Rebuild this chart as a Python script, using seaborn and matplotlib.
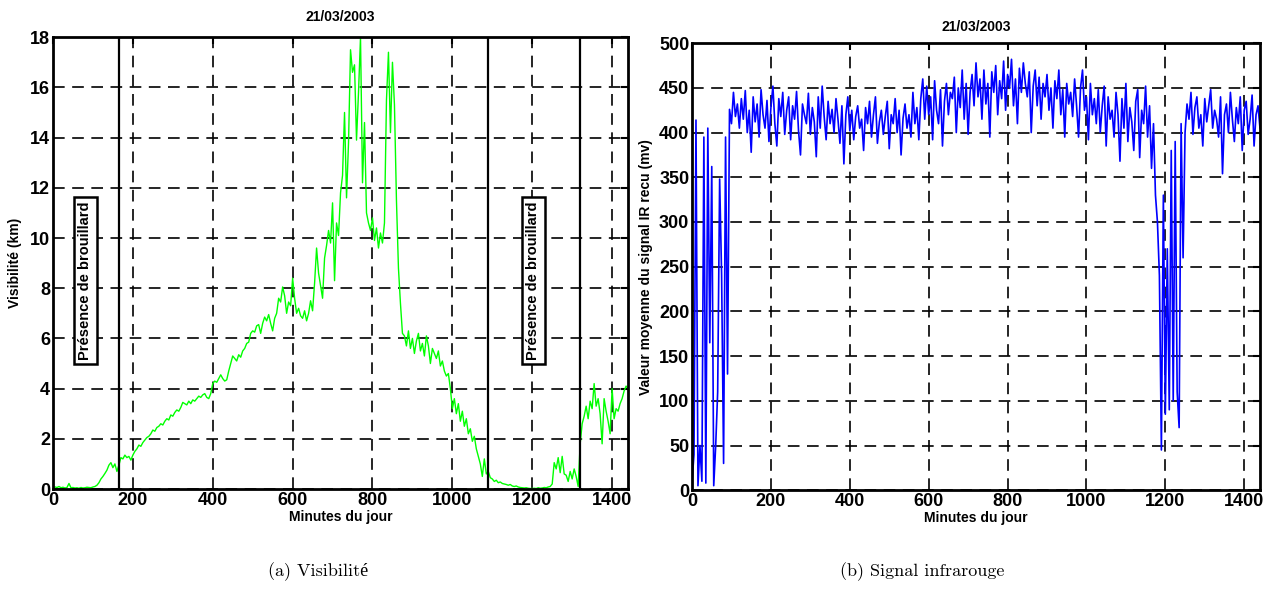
import numpy as np
import pandas as pd
import matplotlib
matplotlib.use("Agg")
import matplotlib.pyplot as plt
import seaborn as sns

# minutes of the day, one sample every 5 minutes
minutes = list(range(0, 1445, 5))

# visibility (km)
visibility = [
    0.05, 0.08, 0.06, 0.10, 0.05, 0.07, 0.04, 0.06, 0.22, 0.05, 0.06, 0.04,
    0.05, 0.03, 0.06, 0.04, 0.05, 0.07, 0.06, 0.05, 0.08, 0.10, 0.15, 0.25,
    0.40, 0.50, 0.62, 0.75, 0.95, 1.05, 0.85, 1.00, 0.70, 0.95, 1.25, 1.20,
    1.35, 1.25, 1.30, 1.15, 1.35, 1.50, 1.60, 1.75, 1.70, 1.85, 1.95, 2.05,
    2.10, 2.20, 2.35, 2.30, 2.45, 2.50, 2.60, 2.55, 2.70, 2.80, 2.75, 2.95,
    2.90, 3.05, 3.15, 3.10, 3.25, 3.45, 3.40, 3.35, 3.50, 3.40, 3.55, 3.50,
    3.60, 3.70, 3.65, 3.75, 3.80, 3.65, 3.60, 3.80, 4.20, 4.30, 4.25, 4.40,
    4.55, 4.40, 4.30, 4.35, 4.70, 5.00, 5.30, 5.20, 5.10, 5.35, 5.25, 5.50,
    5.60, 5.80, 5.85, 6.20, 6.30, 6.25, 6.50, 6.55, 6.20, 6.60, 6.85, 6.70,
    6.95, 6.60, 6.30, 6.80, 7.00, 7.60, 7.45, 8.05, 7.70, 7.00, 7.45, 7.30,
    8.40, 7.60, 7.00, 7.20, 6.90, 6.80, 7.10, 6.70, 7.00, 7.50, 7.10, 8.20,
    9.60, 8.60, 8.10, 7.60, 9.20, 9.70, 10.30, 9.80, 11.40, 8.30, 10.60, 10.10,
    11.80, 12.50, 15.00, 11.60, 13.80, 17.50, 16.60, 16.90, 13.90, 15.80, 18.00, 12.20,
    14.60, 11.00, 10.60, 10.30, 10.80, 9.90, 10.40, 9.60, 10.20, 9.80, 10.60, 15.50,
    17.40, 14.20, 17.00, 15.30, 11.50, 8.80, 7.40, 6.20, 6.10, 5.70, 6.30, 5.60,
    6.00, 5.40, 5.90, 6.20, 5.50, 5.80, 5.30, 6.10, 5.70, 5.00, 5.60, 5.40,
    5.20, 5.50, 4.90, 5.10, 4.70, 4.50, 4.60, 4.00, 3.20, 3.60, 3.00, 3.40,
    2.70, 3.10, 2.50, 2.80, 2.20, 2.40, 1.90, 2.10, 1.60, 1.30, 1.00, 0.50,
    1.20, 0.60, 0.70, 0.45, 0.40, 0.30, 0.35, 0.25, 0.28, 0.22, 0.20, 0.18,
    0.15, 0.18, 0.12, 0.10, 0.12, 0.08, 0.06, 0.05, 0.04, 0.05, 0.03, 0.02,
    0.02, 0.03, 0.02, 0.05, 0.03, 0.04, 0.06, 0.05, 0.08, 0.10, 0.20, 1.05,
    0.80, 1.25, 0.65, 1.30, 0.60, 0.55, 0.30, 0.70, 0.40, 0.80, 0.50, 0.10,
    1.80, 2.60, 2.90, 3.30, 2.80, 3.50, 3.20, 4.20, 3.30, 3.60, 3.00, 1.80,
    3.60, 3.10, 2.70, 2.20, 4.00, 2.80, 3.20, 3.10, 3.40, 3.60, 3.90, 4.10,
    4.00,
]

# mean IR signal received (mV)
ir_signal = [
    10, 40, 414, 5, 50, 10, 395, 8, 405, 165, 362, 5,
    50, 110, 348, 240, 30, 395, 130, 426, 410, 445, 418, 432,
    405, 438, 415, 447, 400, 425, 378, 440, 412, 432, 395, 448,
    420, 405, 436, 390, 428, 452, 410, 385, 438, 418, 445, 398,
    425, 440, 392, 430, 415, 446, 402, 375, 432, 420, 410, 444,
    398, 428, 412, 373, 440, 405, 452, 418, 392, 435, 410, 426,
    400, 438, 415, 388, 430, 365, 420, 440, 402, 425, 392, 418,
    430, 405, 415, 380, 428, 410, 435, 395, 420, 440, 388, 412,
    425, 398, 418, 435, 382, 420, 410, 438, 400, 425, 375, 416,
    432, 405, 420, 395, 445, 410, 428, 392, 438, 460, 415, 452,
    420, 440, 392, 458, 425, 410, 448, 385, 435, 455, 420, 445,
    438, 462, 400, 450, 428, 470, 415, 455, 398, 445, 465, 430,
    478, 440, 460, 415, 470, 432, 455, 395, 468, 445, 475, 420,
    458, 438, 480, 425, 465, 450, 482, 430, 460, 410, 472, 445,
    478, 455, 440, 468, 400, 452, 470, 430, 462, 415, 455, 440,
    465, 425, 450, 405, 458, 438, 470, 420, 448, 395, 455, 432,
    445, 418, 460, 430, 395, 450, 470, 425, 440, 392, 455, 420,
    438, 410, 448, 400, 430, 452, 385, 440, 415, 425, 395, 445,
    420, 368, 438, 405, 455, 390, 428, 412, 380, 435, 448, 372,
    425, 410, 452, 395, 430, 360, 410, 330, 300, 240, 45, 330,
    85, 270, 90, 380, 100, 390, 110, 70, 410, 260, 400, 432,
    415, 445, 398, 428, 440, 405, 420, 385, 438, 412, 430, 448,
    405, 425, 415, 395, 440, 354, 420, 432, 400, 445, 415, 390,
    428, 410, 440, 380, 425, 435, 398, 415, 442, 385, 420, 430,
    405,
]

fog_limits = [165, 1089, 1320]
fog_label = "Présence de brouillard"
date_title = "21/03/2003"

df = pd.DataFrame({"minute": minutes, "vis": visibility, "ir": ir_signal})

sns.set_theme(style="white")
plt.rcParams["font.family"] = ["Liberation Sans", "DejaVu Sans"]
plt.rcParams["font.weight"] = "bold"
plt.rcParams["axes.labelweight"] = "bold"
plt.rcParams["axes.titleweight"] = "bold"
plt.rcParams["text.color"] = "black"
plt.rcParams["axes.labelcolor"] = "black"

fig = plt.figure(figsize=(12.74, 6), dpi=100)
ax1 = fig.add_axes([0.0416, 0.185, 0.4514, 0.753])
ax2 = fig.add_axes([0.5432, 0.183, 0.4458, 0.745])


def style_axis(ax):
    ax.grid(True, color="black", linestyle=(0, (7, 4.5)), linewidth=1.2)
    ax.set_axisbelow(True)
    for sp in ax.spines.values():
        sp.set_color("black")
        sp.set_linewidth(2.0)
    ax.tick_params(direction="in", length=5, width=1.5, top=True, right=True,
                   labelsize=13, pad=2, colors="black")
    for lab in ax.get_xticklabels() + ax.get_yticklabels():
        lab.set_fontweight("bold")


# left panel: visibility
sns.lineplot(data=df, x="minute", y="vis", ax=ax1, color="#00ff00",
             linewidth=1.0, estimator=None)
for m in fog_limits:
    ax1.axvline(m, color="black", linewidth=1.6, zorder=3)
for xm in [81, 1203]:
    ax1.text(xm, 8.3, fog_label, rotation=90, ha="center", va="center",
             fontsize=10.5, fontweight="bold", zorder=5, color="black",
             bbox=dict(boxstyle="square,pad=0.3", fc="white", ec="black", lw=1.8))
ax1.set_xlim(0, 1440)
ax1.set_ylim(0, 18)
ax1.set_xticks(range(0, 1401, 200))
ax1.set_yticks(range(0, 19, 2))
ax1.set_title(date_title, fontsize=10, fontweight="bold", pad=12, color="black")
ax1.set_xlabel("Minutes du jour", fontsize=10, labelpad=1)
ax1.set_ylabel("Visibilité (km)", fontsize=10, labelpad=6)
style_axis(ax1)

# right panel: IR signal
sns.lineplot(data=df, x="minute", y="ir", ax=ax2, color="#0000ff",
             linewidth=1.2, estimator=None)
ax2.set_xlim(0, 1440)
ax2.set_ylim(0, 500)
ax2.set_xticks(range(0, 1401, 200))
ax2.set_yticks(range(0, 501, 50))
ax2.set_title(date_title, fontsize=10, fontweight="bold", pad=9, color="black")
ax2.set_xlabel("Minutes du jour", fontsize=10, labelpad=1)
ax2.set_ylabel("Valeur moyenne du signal IR recu (mv)", fontsize=10, labelpad=4)
style_axis(ax2)

cap_font = ["cmr10", "Liberation Serif", "DejaVu Serif"]
fig.text(0.250, 0.047, "(a) Visibilité", ha="center", va="center",
         fontsize=13, family=cap_font, fontweight="normal", color="black")
fig.text(0.724, 0.047, "(b) Signal infrarouge", ha="center", va="center",
         fontsize=13, family=cap_font, fontweight="normal", color="black")

fig.savefig("out.png", dpi=100)
